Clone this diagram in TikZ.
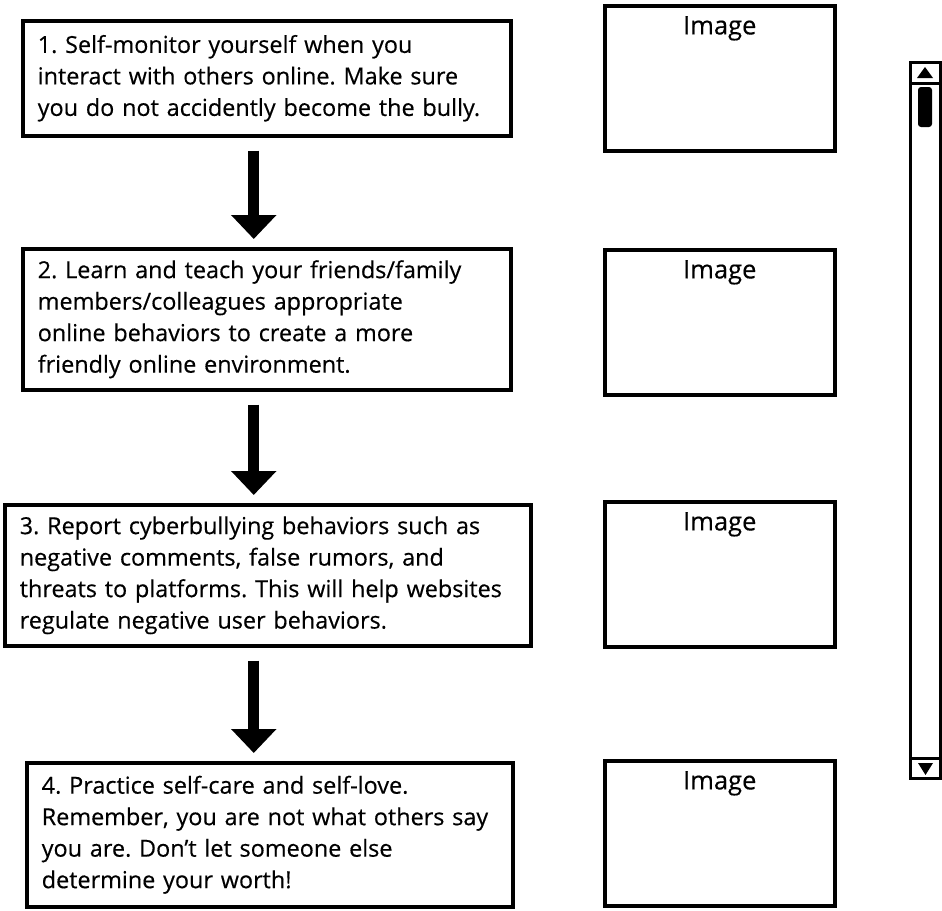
\documentclass[tikz,border=0pt]{standalone}
\usepackage{fontspec}
\setmainfont{Open Sans}[Ligatures=NoCommon,FakeBold=0.4]
\usetikzlibrary{positioning,arrows.meta}
\tikzset{
  stepbox/.style={draw,line width=3.5pt,rectangle,align=left,anchor=north west,inner xsep=15pt,inner ysep=0pt,font=\fontsize{23.4}{31.5}\selectfont\frenchspacing},
  imgbox/.style={draw,line width=3.5pt,rectangle,anchor=north west,minimum width=230pt,minimum height=145pt},
  imglabel/.style={inner sep=0pt,anchor=north,font=\fontsize{25.5}{30}\selectfont},
  flow/.style={line width=11pt,-{Triangle[width=44pt,length=24pt]},shorten <=13pt,shorten >=8pt},
  scrollpart/.style={line width=3pt},
}
\begin{document}
\begin{tikzpicture}[x=1pt,y=-1pt]
      \useasboundingbox (0,0) rectangle (942,910);
      \node[stepbox,text width=458pt,minimum height=115pt](s1) at (21,19)
        {1. Self-monitor yourself when you\\interact with others online. Make sure\\you do not accidently become the bully.};
      \node[stepbox,text width=458pt,minimum height=141pt](s2) at (21,247)
        {2. Learn and teach your friends/family\\members/colleagues appropriate\\online behaviors to create a more\\friendly online environment.};
      \node[stepbox,text width=496pt,minimum height=141pt](s3) at (3,503)
        {3. Report cyberbullying behaviors such as\\negative comments, false rumors, and\\threats to platforms. This will help websites\\regulate negative user behaviors.};
      \node[stepbox,text width=456pt,minimum height=144pt](s4) at (25,761)
        {4. Practice self-care and self-love.\\Remember, you are not what others say\\you are. Don’t let someone else\\determine your worth!};

      \draw[flow] ([xshift=-13pt]s1.south) -- ([xshift=-13pt]s2.north);
      \draw[flow] ([xshift=-13pt]s2.south) -- ([xshift=-13pt]s2.south |- s3.north);
      \draw[flow] ([xshift=-14pt]s3.south) -- ([xshift=-14pt]s3.south |- s4.north);

      \node[imgbox](i1) at (603,4){};
      \node[imgbox](i2) at (603,248){};
      \node[imgbox](i3) at (603,500){};
      \node[imgbox](i4) at (603,759){};
      \node[imglabel,below=12pt of i1.north](l1){Image};
      \node[imglabel,below=12pt of i2.north](l2){Image};
      \node[imglabel,below=12pt of i3.north](l3){Image};
      \node[imglabel,below=12pt of i4.north](l4){Image};

      \draw[scrollpart] (910,62) rectangle (940,778);
      \draw[scrollpart] (910,83) -- (940,83);
      \draw[scrollpart] (910,758) -- (940,758);
      \fill (925,67) -- (933,78) -- (917,78) -- cycle;
      \fill[rounded corners=3pt] (918,87) rectangle (932,127);
      \fill (918,763) -- (933,763) -- (925.5,775) -- cycle;
    \end{tikzpicture}
\end{document}
